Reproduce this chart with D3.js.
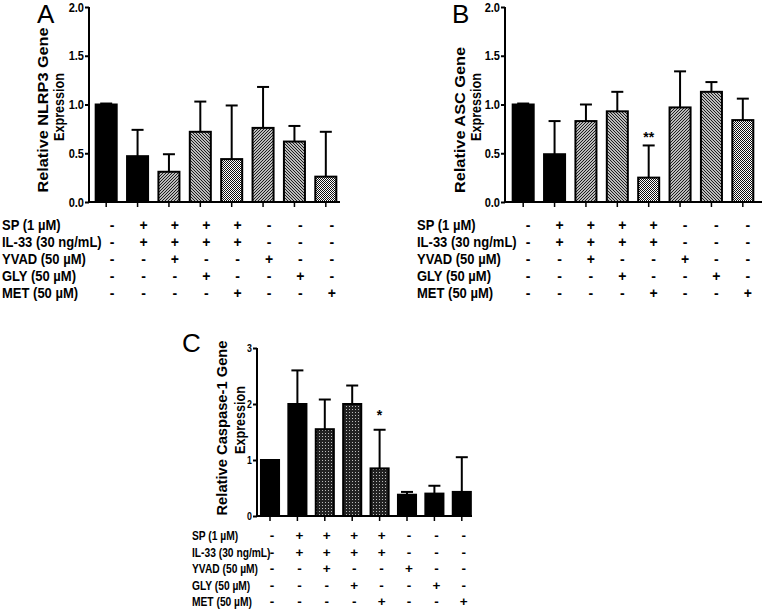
<!DOCTYPE html>
<html>
<head>
<meta charset="utf-8">
<script src="https://cdn.jsdelivr.net/npm/d3@7"></script>
<style>
  body { margin: 0; background: #fff; }
  svg { font-family: "Liberation Sans", Arial, sans-serif; }
</style>
</head>
<body>
<svg id="chart" width="762" height="610"></svg>
<script>
// treatment rows of the tables
const rowLabels = ["SP  (1 \u00b5M)", "IL-33 (30 ng/mL)", "YVAD (50 \u00b5M)", "GLY (50 \u00b5M)", "MET (50 \u00b5M)"];
const signs = [
  ["-", "+", "+", "+", "+", "-", "-", "-"],
  ["-", "+", "+", "+", "+", "-", "-", "-"],
  ["-", "-", "+", "-", "-", "+", "-", "-"],
  ["-", "-", "-", "+", "-", "-", "+", "-"],
  ["-", "-", "-", "-", "+", "-", "-", "+"]
];

// panel A: NLRP3
const nlrp3Mean = [1.0, 0.47, 0.31, 0.72, 0.44, 0.76, 0.62, 0.26];
const nlrp3Top  = [1.01, 0.74, 0.49, 1.03, 0.99, 1.18, 0.78, 0.72];
// panel B: ASC
const ascMean = [1.0, 0.49, 0.83, 0.93, 0.25, 0.97, 1.13, 0.84];
const ascTop  = [1.01, 0.83, 1.0, 1.13, 0.58, 1.34, 1.23, 1.06];
// panel C: Caspase-1
const caspMean = [1.0, 2.0, 1.55, 2.0, 0.85, 0.38, 0.4, 0.43];
const caspTop  = [1.0, 2.6, 2.08, 2.33, 1.54, 0.43, 0.54, 1.05];

const fillsAB = ["black", "black", "url(#rise)", "url(#fall)", "url(#check)", "url(#rise)", "url(#fall)", "url(#check)"];
const fillsC  = ["black", "black", "url(#dots)", "url(#dots)", "url(#dots)", "black", "black", "black"];

const svg = d3.select("#chart");
const defs = svg.append("defs");

function hatch(id, d) {
  const p = defs.append("pattern").attr("id", id)
    .attr("patternUnits", "userSpaceOnUse").attr("width", 3).attr("height", 3);
  p.append("rect").attr("width", 3).attr("height", 3).attr("fill", "white");
  p.append("path").attr("d", d).attr("stroke", "#111").attr("stroke-width", 1.1);
}
hatch("rise", "M-1,1 L1,-1 M0,3 L3,0 M2,4 L4,2");
hatch("fall", "M-1,2 L1,4 M0,0 L3,3 M2,-1 L4,1");

const chk = defs.append("pattern").attr("id", "check")
  .attr("patternUnits", "userSpaceOnUse").attr("width", 2).attr("height", 2);
chk.append("rect").attr("width", 2).attr("height", 2).attr("fill", "white");
chk.append("rect").attr("width", 1).attr("height", 1).attr("fill", "#111");
chk.append("rect").attr("x", 1).attr("y", 1).attr("width", 1).attr("height", 1).attr("fill", "#111");

const dots = defs.append("pattern").attr("id", "dots")
  .attr("patternUnits", "userSpaceOnUse").attr("width", 3).attr("height", 3);
dots.append("rect").attr("width", 3).attr("height", 3).attr("fill", "#222");
dots.append("rect").attr("x", 1).attr("y", 1).attr("width", 1).attr("height", 1).attr("fill", "#bbb");

// horizontally squeezed bold text (the figure is a bit stretched vertically)
function txt(g, x, y, s, size, sx, anchor) {
  return g.append("text")
    .attr("transform", `translate(${x},${y}) scale(${sx},1)`)
    .attr("text-anchor", anchor || "start")
    .attr("font-size", size).attr("font-weight", "bold")
    .text(s);
}

function drawPanel(o) {
  const g = svg.append("g");
  const x = d3.scaleBand().domain(d3.range(8)).range(o.xr).paddingInner(o.pad).paddingOuter(o.pad / 2);
  const y = d3.scaleLinear().domain([0, o.ymax]).range(o.yr);
  const cx = i => x(i) + x.bandwidth() / 2;

  // bars
  g.selectAll(".bar").data(o.mean).join("rect")
    .attr("x", (d, i) => x(i))
    .attr("y", d => y(d))
    .attr("width", x.bandwidth())
    .attr("height", d => y(0) - y(d))
    .attr("fill", (d, i) => o.fills[i])
    .attr("stroke", "black").attr("stroke-width", 2);

  // upper error bars
  const eb = g.selectAll(".err").data(o.top).join("g");
  eb.append("line")
    .attr("x1", (d, i) => cx(i)).attr("x2", (d, i) => cx(i))
    .attr("y1", (d, i) => y(o.mean[i])).attr("y2", d => y(d))
    .attr("stroke", "black").attr("stroke-width", 2);
  eb.append("line")
    .attr("x1", (d, i) => cx(i) - 6).attr("x2", (d, i) => cx(i) + 6)
    .attr("y1", d => y(d)).attr("y2", d => y(d))
    .attr("stroke", "black").attr("stroke-width", 2);

  // y axis
  const ya = g.append("g").attr("transform", `translate(${o.axisX},0)`)
    .call(d3.axisLeft(y).tickValues(o.yticks).tickFormat("").tickSize(4));
  ya.select(".domain").attr("d", `M0,${o.yr[1]}V${o.yr[0]}`).attr("stroke-width", 2);
  ya.selectAll(".tick line").attr("stroke-width", 2);
  o.yticks.forEach(v => {
    txt(g, o.axisX - 5, y(v) + o.tickFont * 0.36, o.fmt(v), o.tickFont, o.tickSx, "end");
  });

  // x axis with ticks at bar centres
  g.append("line").attr("x1", o.axisX - 1).attr("x2", o.xEnd)
    .attr("y1", y(0)).attr("y2", y(0)).attr("stroke", "black").attr("stroke-width", 2);
  g.selectAll(".xt").data(d3.range(8)).join("line")
    .attr("x1", cx).attr("x2", cx)
    .attr("y1", y(0)).attr("y2", y(0) + 5)
    .attr("stroke", "black").attr("stroke-width", 1.5);

  // axis title, two lines
  o.title.forEach((t, k) => {
    g.append("text")
      .attr("transform", `translate(${o.titleX[k]},${o.titleY[k]}) rotate(-90)`)
      .attr("text-anchor", "middle").attr("font-size", 14).attr("font-weight", "bold")
      .attr("textLength", o.titleLen[k]).attr("lengthAdjust", "spacingAndGlyphs")
      .text(t);
  });

  // panel letter
  g.append("text").attr("x", o.letterPos[0]).attr("y", o.letterPos[1])
    .attr("font-size", 26).text(o.letter);

  // significance marks
  if (o.star) {
    g.append("text").attr("x", cx(o.star[0])).attr("y", y(o.star[1]))
      .attr("text-anchor", "middle").attr("font-size", 14).attr("font-weight", "bold").text(o.star[2]);
  }

  // treatment table
  rowLabels.forEach((lab, r) => {
    const ty = o.rowY0 + r * o.rowStep;
    txt(g, o.labelX, ty, lab, o.tableFont, o.tableSx);
    signs[r].forEach((s, i) => txt(g, cx(i) + o.colShift, ty, s, o.tableFont, 1, "middle"));
  });
}

drawPanel({
  letter: "A", letterPos: [37, 23],
  mean: nlrp3Mean, top: nlrp3Top, fills: fillsAB,
  xr: [90.5, 341.5], pad: 0.33, xEnd: 340, axisX: 89,
  ymax: 2, yr: [202, 7], yticks: [0, 0.5, 1, 1.5, 2], fmt: d3.format(".1f"), tickFont: 13, tickSx: 0.85,
  title: ["Relative NLRP3 Gene", "Expression"], titleX: [48, 64], titleY: [110, 107], titleLen: [165, 68],
  labelX: 2, rowY0: 230, rowStep: 17, tableFont: 14, tableSx: 0.93, colShift: 6
});

drawPanel({
  letter: "B", letterPos: [452, 23],
  mean: ascMean, top: ascTop, fills: fillsAB,
  xr: [507.5, 758.5], pad: 0.33, xEnd: 762, axisX: 505,
  ymax: 2, yr: [202, 7], yticks: [0, 0.5, 1, 1.5, 2], fmt: d3.format(".1f"), tickFont: 13, tickSx: 0.85,
  title: ["Relative ASC Gene", "Expression"], titleX: [465, 481], titleY: [120, 107], titleLen: [146, 68],
  star: [4, 0.62, "**"],
  labelX: 417, rowY0: 230, rowStep: 17, tableFont: 14, tableSx: 0.93, colShift: 5
});

drawPanel({
  letter: "C", letterPos: [182, 352],
  mean: caspMean, top: caspTop, fills: fillsC,
  xr: [256.3, 475.5], pad: 0.34, xEnd: 472, axisX: 257,
  ymax: 3, yr: [516, 348], yticks: [0, 1, 2, 3], fmt: d3.format("d"), tickFont: 11, tickSx: 0.8,
  title: ["Relative Caspase-1 Gene", "Expression"], titleX: [227, 245], titleY: [428, 420], titleLen: [175, 68],
  star: [4, 1.72, "*"],
  labelX: 192, rowY0: 540, rowStep: 16.5, tableFont: 13.5, tableSx: 0.76, colShift: 2
});
</script>
</body>
</html>
